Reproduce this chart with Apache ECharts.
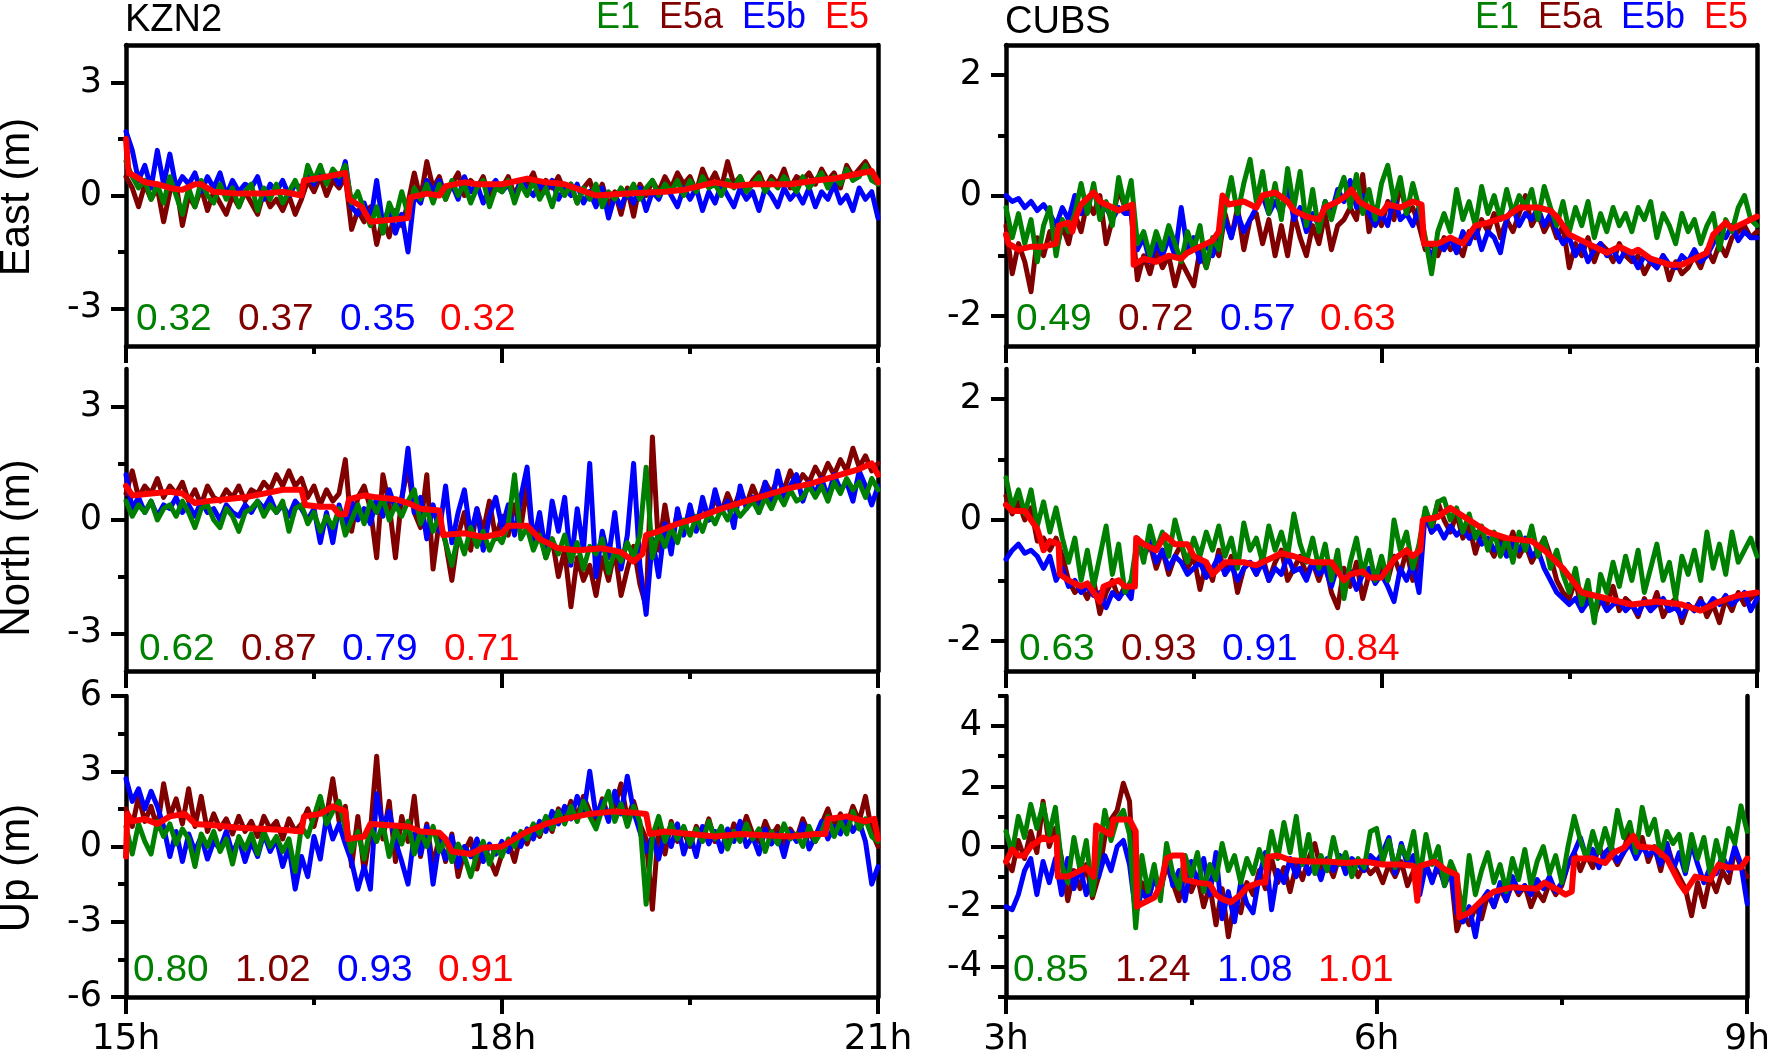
<!DOCTYPE html>
<html><head><meta charset="utf-8">
<script src="https://cdn.jsdelivr.net/npm/echarts@6/dist/echarts.min.js"></script>
<style>html,body{margin:0;padding:0;background:#fff}#c{width:1773px;height:1058px}</style>
</head><body><div id="c"></div>
<script>
// ---------------- DATA ----------------
const sampleStepH = 0.05;
const kzn2StartH = 15, cubsStartH = 3;
const kzn2HourTicks = [15, 18, 21];
const cubsHourTicks = [3, 6, 9];
const seriesNames = ['E1', 'E5a', 'E5b', 'E5'];
const stationNames = ['KZN2', 'CUBS'];
const componentNames = ['East (m)', 'North (m)', 'Up (m)'];
const yTicksEN_KZN2 = [-3, 0, 3], yMinorEN_KZN2 = [-1.5, 1.5];
const yTicksUp_KZN2 = [-6, -3, 0, 3, 6], yMinorUp_KZN2 = [-4.5, -1.5, 1.5, 4.5];
const yTicksEN_CUBS = [-2, 0, 2], yMinorEN_CUBS = [-1, 1];
const yTicksUp_CUBS = [-4, -2, 0, 2, 4], yMinorUp_CUBS = [-5, -3, -1, 1, 3, 5];
const rmsKzn2 = [['0.32','0.37','0.35','0.32'],['0.62','0.87','0.79','0.71'],['0.80','1.02','0.93','0.91']];
const rmsCubs = [['0.49','0.72','0.57','0.63'],['0.63','0.93','0.91','0.84'],['0.85','1.24','1.08','1.01']];

// KZN2 East
const kzn2EastE1 = [0.9,0.5,0.2,0.4,-0.1,0.3,-0.2,0.5,0.0,-0.5,
 0.2,-0.3,0.4,0.0,-0.2,0.3,-0.1,0.2,-0.3,0.1,
 0.3,-0.4,0.2,-0.1,0.3,-0.2,0.1,0.4,0.0,0.8,
 0.4,0.8,0.3,0.7,0.5,0.8,-0.2,0.1,-0.4,-0.8,
 -0.3,-1.0,-0.2,-0.6,0.1,-0.5,0.2,-0.1,0.3,-0.2,
 0.3,-0.1,0.4,0.0,0.3,-0.2,0.2,0.4,-0.3,0.2,
 0.1,0.4,-0.2,0.3,0.0,0.4,-0.1,0.2,-0.3,0.3,
 0.0,0.3,-0.2,0.2,-0.1,0.3,-0.3,0.1,-0.1,0.2,
 0.0,0.3,-0.1,0.2,0.4,0.0,0.3,0.1,0.4,0.0,
 0.4,0.1,0.5,0.2,0.3,0.0,0.4,0.2,0.5,0.1,
 0.3,0.5,0.1,0.4,0.2,0.5,0.3,0.1,0.5,0.2,
 0.4,0.6,0.2,0.5,0.3,0.7,0.4,0.5,0.8,0.4,
 0.3];
const kzn2EastE5a = [0.5,0.2,-0.3,0.3,-0.1,0.2,-0.7,0.1,0.3,-0.8,
 0.0,-0.3,0.2,-0.4,0.1,-0.2,-0.5,0.0,-0.3,0.1,
 -0.2,-0.5,0.1,-0.3,-0.1,-0.4,0.0,-0.5,-0.1,0.4,
 0.1,0.5,0.0,0.4,0.2,0.5,-0.9,-0.4,-0.7,-0.3,
 -1.3,-0.6,-1.1,-0.4,-0.8,-0.2,0.6,-0.1,0.9,0.2,
 0.5,-0.1,0.3,0.6,0.0,0.4,0.2,0.5,-0.1,0.3,
 0.2,0.5,0.0,0.4,0.3,0.6,0.1,0.4,0.2,0.5,
 0.1,0.3,-0.2,0.2,0.4,-0.1,0.3,-0.3,0.1,-0.5,
 0.2,-0.55,0.3,0.0,0.4,0.1,0.5,0.2,0.6,0.3,
 0.5,0.1,0.7,0.3,0.6,0.2,0.9,0.3,0.5,0.1,
 0.4,0.6,0.2,0.5,0.3,0.7,0.2,0.5,0.4,0.6,
 0.3,0.7,0.4,0.6,0.2,0.8,0.5,0.7,0.9,0.6,
 0.4];
const kzn2EastE5b = [1.7,1.2,0.4,0.8,0.2,1.2,0.3,1.1,0.2,0.5,
 0.3,0.6,0.1,0.5,0.2,0.6,0.0,0.4,0.1,0.3,
 0.2,0.5,-0.1,0.3,0.1,0.4,0.0,0.3,0.2,0.6,
 0.3,0.7,0.4,0.6,0.3,0.9,-0.3,-0.5,-0.2,-0.7,
 0.4,-0.8,-0.3,-1.0,-0.5,-1.5,0.0,-0.2,0.4,0.1,
 0.4,0.0,0.3,-0.1,0.5,0.1,0.3,-0.2,0.2,0.4,
 0.1,0.3,-0.1,0.4,0.2,0.0,0.3,0.1,0.4,-0.1,
 0.2,0.0,0.3,-0.2,0.1,-0.3,0.2,-0.6,0.0,-0.3,
 0.1,-0.2,0.2,-0.4,0.1,-0.1,0.3,0.0,-0.3,0.2,
 -0.1,0.2,-0.4,0.1,-0.2,0.3,0.0,-0.3,0.2,-0.1,
 0.1,-0.4,0.2,0.0,-0.3,0.2,-0.1,0.1,-0.2,0.2,
 -0.3,0.1,-0.1,0.3,-0.2,0.0,-0.4,0.2,-0.1,0.1,
 -0.6];
const kzn2EastE5 = [[15.0,1.5],[15.02,0.6],[15.08,0.5],[15.15,0.35],[15.25,0.3],[15.35,0.2],[15.45,0.15],[15.55,0.3],[15.6,0.3],[15.7,0.1],[15.9,0.05],[16.1,0.05],[16.25,0.1],[16.4,0.0],[16.42,0.4],[16.6,0.5],[16.75,0.6],[16.78,-0.1],[16.88,-0.3],[16.95,-0.7],[17.1,-0.65],[17.25,-0.6],[17.27,-0.05],[17.4,0.05],[17.5,0.0],[17.55,0.25],[17.7,0.35],[17.8,0.3],[18.0,0.3],[18.2,0.45],[18.35,0.35],[18.5,0.3],[18.75,0.0],[19.0,0.05],[19.3,0.1],[19.45,0.15],[19.7,0.35],[19.85,0.25],[20.0,0.3],[20.3,0.3],[20.5,0.4],[20.65,0.45],[20.8,0.55],[20.95,0.65],[21.0,0.35]];

// KZN2 North
const kzn2NorthE1 = [0.5,0.1,0.4,0.2,0.5,0.0,0.3,0.4,0.1,0.5,
 0.2,-0.2,0.3,0.4,0.0,-0.2,0.3,0.1,-0.3,0.2,
 0.3,0.5,0.1,0.4,0.2,0.5,-0.3,0.3,0.4,-0.1,
 0.2,-0.3,0.1,-0.2,0.3,-0.4,0.0,0.4,-0.1,0.5,
 0.2,0.6,0.0,0.4,0.1,0.5,0.8,-0.1,0.3,-0.3,
 0.1,-0.6,-1.2,-0.4,-0.9,-0.2,-0.7,-0.3,-0.8,-0.4,
 -0.6,-0.1,1.2,-0.5,-0.2,-0.8,-0.4,-1.0,-0.5,-0.9,
 -0.4,-1.1,-0.6,-1.3,-0.7,-0.9,-0.5,-1.4,-0.8,-1.1,
 -0.6,-1.0,-0.4,1.4,-1.0,-0.3,-0.7,-0.2,-0.6,0.0,
 -0.4,0.1,-0.3,0.2,-0.1,0.3,0.0,0.4,0.1,0.3,
 0.5,0.2,0.6,0.3,0.7,0.4,0.8,0.5,0.6,0.9,
 0.6,0.9,0.5,1.0,0.7,1.1,0.8,1.0,0.6,1.1,
 0.8];
const kzn2NorthE5a = [0.7,1.3,0.6,0.9,0.7,1.1,0.6,0.9,0.7,1.0,
 0.5,0.8,0.4,0.9,0.6,0.5,0.8,0.6,0.9,0.5,
 0.8,0.7,1.0,0.8,1.2,0.9,1.3,0.9,1.1,0.6,
 0.9,0.4,0.8,0.5,0.7,1.6,-0.3,0.6,0.9,0.3,
 -1.0,1.2,0.4,-1.0,0.6,1.4,0.2,-0.2,1.2,-1.3,
 0.0,-0.6,-1.6,-0.4,0.2,-0.8,0.3,-0.3,0.5,-0.5,
 0.1,-0.4,0.4,-0.2,0.9,-0.6,-0.2,-1.0,-0.5,-1.5,
 -0.8,-2.3,-1.0,-1.6,-1.2,-2.0,-1.0,-1.6,-0.8,-2.0,
 -1.3,-0.7,-1.7,-2.3,2.2,-0.8,0.4,-0.6,0.2,-0.3,
 0.3,-0.2,0.5,0.0,0.6,0.2,0.7,0.3,0.8,0.4,
 0.9,0.5,1.0,0.7,1.1,0.8,1.3,0.9,1.2,1.0,
 1.4,1.1,1.5,1.2,1.6,1.3,1.9,1.4,1.7,1.3,
 1.5];
const kzn2NorthE5b = [1.2,0.3,0.6,0.2,0.5,0.1,0.4,0.3,0.6,0.2,
 0.4,0.1,0.5,0.2,0.3,0.0,0.4,0.2,0.1,0.4,
 0.2,0.5,0.3,0.6,0.2,0.4,0.1,0.5,0.3,0.0,
 0.3,-0.6,0.2,-0.6,0.4,-0.2,0.5,0.0,0.3,-0.1,
 0.6,0.1,0.8,0.3,0.5,1.9,0.2,0.6,-0.5,0.4,
 -0.3,0.9,-0.6,0.2,0.8,-0.4,0.3,-0.8,0.1,0.6,
 -0.2,0.4,-0.4,0.6,1.4,-0.6,0.2,-0.9,0.5,-0.3,
 0.6,-1.2,0.3,-0.8,1.5,-1.5,-0.3,-1.0,0.2,-1.3,
 -0.4,1.5,-1.2,-2.5,-0.5,-1.5,-0.1,-0.9,0.3,-0.4,
 0.4,-0.3,0.6,0.0,0.8,0.2,0.5,-0.2,0.9,0.3,
 0.6,0.2,1.0,0.4,1.3,0.6,0.9,1.2,0.5,1.0,
 0.7,1.1,0.6,1.2,0.8,1.0,0.5,1.3,0.9,0.4,
 0.9];
const kzn2NorthE5 = [[15.0,0.9],[15.05,0.65],[15.2,0.7],[15.35,0.75],[15.45,0.7],[15.55,0.45],[15.65,0.5],[15.8,0.55],[15.95,0.6],[16.1,0.7],[16.25,0.8],[16.4,0.8],[16.43,0.4],[16.55,0.35],[16.65,0.35],[16.7,0.15],[16.75,0.15],[16.78,0.55],[16.9,0.65],[17.0,0.6],[17.15,0.55],[17.25,0.45],[17.35,0.3],[17.5,0.25],[17.53,-0.4],[17.7,-0.35],[17.85,-0.45],[18.0,-0.35],[18.05,-0.15],[18.2,-0.15],[18.3,-0.5],[18.45,-0.75],[18.6,-0.8],[18.8,-0.75],[18.95,-0.85],[19.05,-1.1],[19.12,-0.9],[19.15,-0.4],[19.25,-0.3],[19.4,-0.1],[19.55,0.05],[19.75,0.3],[20.0,0.55],[20.15,0.7],[20.3,0.85],[20.45,0.95],[20.6,1.1],[20.75,1.25],[20.85,1.35],[20.95,1.5],[21.0,1.2]];

// KZN2 Up
const kzn2UpE1 = [0.8,-0.3,0.9,0.2,-0.3,1.0,0.4,0.9,0.1,0.7,
 0.3,-0.8,0.5,0.0,0.6,-0.2,0.3,-0.7,0.4,-0.1,
 0.5,-0.3,0.6,0.0,0.4,-0.2,0.3,-1.0,0.8,0.4,
 1.2,2.0,0.9,1.4,1.8,0.7,-0.2,0.6,-0.5,0.8,
 0.2,0.9,-0.4,0.7,0.1,1.0,-0.3,0.6,0.0,0.8,
 -0.2,0.3,-0.6,0.1,-0.4,-1.2,-0.3,0.2,-0.7,0.0,
 -0.4,0.3,0.0,0.6,0.3,0.9,0.5,1.2,0.7,1.4,
 0.9,1.6,1.0,1.8,1.2,0.7,1.5,2.2,1.0,1.7,
 0.8,1.6,1.0,-2.3,0.4,1.2,0.2,0.9,0.3,0.8,
 0.1,0.7,0.2,1.0,0.3,0.8,-0.1,0.6,0.2,0.9,
 0.3,0.7,-0.2,0.6,0.1,0.9,0.3,0.5,0.0,0.8,
 0.2,0.6,1.2,0.4,1.0,0.5,1.4,0.7,1.1,0.4,
 0.2];
const kzn2UpE5a = [1.5,0.8,2.0,1.0,1.6,0.7,2.5,1.2,1.9,0.9,
 2.3,0.8,2.0,0.6,1.3,0.7,1.1,0.5,1.2,0.6,
 1.0,0.4,1.2,0.7,1.0,0.3,1.1,0.6,0.9,1.5,
 0.8,1.8,1.2,2.7,1.0,1.6,-0.8,1.2,-1.0,0.6,
 3.6,0.3,1.8,-0.6,1.2,0.2,2.0,-0.4,0.9,-0.8,
 0.4,-0.6,0.5,-1.2,-0.2,0.3,-0.9,0.1,-0.5,-1.1,
 -0.3,0.2,-0.6,0.5,0.1,0.8,0.4,1.1,0.6,1.5,
 1.0,1.8,1.2,2.0,1.4,1.0,1.9,1.2,1.6,2.5,
 1.1,1.8,0.9,0.3,-2.5,0.8,-0.3,1.0,0.2,0.6,
 0.0,0.8,0.3,1.1,0.2,0.7,0.0,0.9,0.4,1.2,
 0.5,0.2,1.0,0.4,0.8,0.1,0.7,0.3,1.1,0.5,
 0.2,0.9,1.5,0.7,1.3,0.8,1.6,1.0,2.0,0.6,
 0.0];
const kzn2UpE5b = [2.7,1.8,2.3,1.5,2.2,1.6,0.8,-0.4,0.6,-0.6,
 0.5,-0.2,0.4,-0.5,0.2,-0.1,0.6,-0.3,0.3,-0.6,
 0.2,-0.4,0.5,-0.2,0.3,-0.8,0.0,-1.7,-0.4,-1.2,
 0.4,-0.5,1.2,0.3,0.9,0.1,-0.6,-1.7,-0.8,-1.7,
 2.1,0.8,1.4,0.2,-0.6,-1.5,0.5,-0.3,0.8,-1.5,
 0.2,-0.5,0.4,-0.8,0.0,-0.4,0.3,-0.6,0.1,-0.3,
 0.2,-0.2,0.5,0.0,0.7,0.3,1.0,0.6,1.4,0.9,
 1.6,1.1,2.0,1.3,3.0,1.2,1.8,1.0,2.2,1.3,
 2.8,1.4,0.6,-0.2,0.4,-0.5,0.6,0.0,0.9,-0.3,
 0.5,-0.4,0.8,0.1,0.6,-0.2,0.7,0.2,1.0,0.0,
 0.4,-0.3,0.7,0.1,0.5,-0.4,0.6,0.2,0.9,-0.1,
 0.4,1.0,0.3,0.8,0.5,1.2,0.6,1.0,0.2,-1.5,
 -0.8];
const kzn2UpE5 = [[15.0,-0.4],[15.01,1.3],[15.05,1.0],[15.15,1.1],[15.25,0.9],[15.35,1.2],[15.47,1.3],[15.55,0.9],[15.7,0.85],[15.9,0.75],[16.1,0.7],[16.3,0.65],[16.4,0.6],[16.42,1.2],[16.55,1.3],[16.65,1.6],[16.75,1.4],[16.77,0.3],[16.9,0.4],[16.95,0.9],[17.1,0.85],[17.25,0.8],[17.35,0.6],[17.5,0.55],[17.55,0.3],[17.6,-0.2],[17.75,-0.3],[17.85,-0.05],[18.0,0.0],[18.1,0.3],[18.2,0.6],[18.35,0.9],[18.5,1.1],[18.7,1.3],[18.9,1.4],[19.05,1.35],[19.15,1.3],[19.18,0.5],[19.3,0.6],[19.5,0.5],[19.7,0.4],[19.9,0.5],[20.1,0.45],[20.3,0.4],[20.5,0.5],[20.58,0.5],[20.6,1.1],[20.75,1.2],[20.9,1.0],[20.97,1.1],[21.0,0.3]];

// CUBS East
const cubsEastE1 = [-0.2,-0.7,-0.3,-0.8,-0.4,-1.1,-0.5,-0.2,-1.0,-0.4,
 -0.6,-0.3,0.2,-0.3,0.2,-0.4,-0.1,-0.5,0.3,-0.2,
 0.25,-0.8,-0.6,-1.0,-0.6,-0.9,-0.5,-0.8,-1.1,-0.6,
 -0.9,-0.5,-1.2,-0.7,-0.9,-0.2,0.3,-0.3,0.2,0.6,
 -0.1,0.4,-0.3,0.2,-0.4,0.45,-0.2,0.4,-0.5,0.1,
 -0.6,-0.1,-0.4,0.0,0.3,-0.2,0.35,-0.3,0.1,-0.4,
 0.2,0.5,-0.1,0.3,-0.3,0.2,-0.2,-0.7,-1.3,-0.6,
 -0.3,-0.6,0.1,-0.4,-0.1,-0.5,0.15,-0.3,0.0,-0.4,
 0.1,-0.3,0.0,-0.2,0.1,-0.4,0.15,-0.2,-0.5,-0.1,
 -0.6,-0.2,-0.5,-0.1,-0.7,-0.3,-0.6,-0.2,-0.5,-0.3,
 -0.6,-0.2,-0.4,-0.1,-0.7,-0.3,-0.5,-0.8,-0.3,-0.6,
 -0.4,-0.8,-0.5,-0.3,-0.9,-0.4,-0.6,-0.2,0.0,-0.4,
 -0.5];
const cubsEastE5a = [-0.5,-1.3,-0.8,-1.1,-1.6,-0.7,-1.0,-0.6,-0.9,-0.5,
 -0.8,-0.3,-0.6,-0.1,-0.3,0.0,-0.8,-0.4,0.1,-0.2,
 -0.3,-1.4,-1.0,-1.3,-0.9,-1.2,-1.0,-1.5,-1.1,-1.3,
 -1.5,-0.9,-1.2,-0.8,-1.0,-0.3,-0.7,-0.2,-0.9,-0.4,
 -0.3,-0.8,-0.4,-1.0,-0.5,-1.0,-0.3,-0.7,-1.0,-0.5,
 -0.8,-0.3,-0.9,-0.5,-0.4,-0.2,-0.4,0.35,-0.6,-0.2,
 -0.5,-0.1,-0.4,0.2,-0.3,-0.2,-0.5,-0.9,-0.8,-1.0,
 -0.7,-0.9,-0.8,-1.0,-0.6,-0.7,-0.4,-0.6,-0.3,-0.7,
 -0.4,-0.6,-0.3,0.0,-0.5,-0.3,-0.6,-0.4,-0.7,-0.5,
 -1.2,-0.8,-1.0,-0.7,-1.1,-0.8,-0.9,-1.1,-0.8,-1.0,
 -1.1,-1.0,-1.3,-1.1,-1.2,-1.0,-1.4,-1.1,-1.3,-1.2,
 -1.0,-1.2,-0.9,-1.1,-0.8,-1.0,-0.7,-0.6,-0.5,-0.7,
 -0.6];
const cubsEastE5b = [0.0,-0.1,-0.05,-0.2,-0.1,-0.25,-0.15,-0.3,-0.5,-0.2,
 -0.4,0.0,-0.3,-0.1,0.1,-0.3,-0.2,-0.4,-0.2,-0.3,
 -0.3,-0.9,-0.7,-1.1,-0.8,-1.0,-0.7,-1.0,-0.2,-0.9,
 -0.7,-1.1,-0.8,-1.0,-0.7,-0.4,-0.7,-0.3,-0.6,-0.4,
 -0.2,0.0,-0.3,-0.1,-0.3,0.2,-0.4,-0.2,-0.6,-0.3,
 -0.5,-0.1,-0.3,0.1,-0.1,0.25,-0.2,0.0,-0.3,-0.5,
 -0.3,-0.5,0.0,-0.4,-0.3,-0.5,-0.2,-0.8,-1.0,-0.8,
 -0.9,-0.7,-0.95,-0.6,-0.8,-0.5,-0.9,-0.6,-0.7,-0.95,
 -0.4,-0.2,-0.5,-0.3,-0.4,-0.2,-0.5,-0.3,-0.6,-0.8,
 -0.7,-1.0,-0.8,-1.1,-0.9,-0.8,-1.0,-0.9,-1.1,-0.9,
 -1.0,-1.2,-1.0,-1.1,-1.2,-1.0,-1.15,-1.2,-1.0,-1.1,
 -0.9,-1.1,-1.0,-0.8,-0.6,-0.7,-0.5,-0.75,-0.6,-0.7,
 -0.7];
const cubsEastE5 = [[3.0,-0.65],[3.02,-0.8],[3.1,-0.9],[3.2,-0.85],[3.3,-0.85],[3.4,-0.8],[3.42,-0.5],[3.5,-0.45],[3.53,-0.6],[3.56,-0.35],[3.6,-0.15],[3.7,0.05],[3.75,-0.1],[3.85,-0.2],[3.9,-0.25],[3.95,-0.2],[4.01,-0.15],[4.02,-1.15],[4.1,-1.05],[4.2,-1.1],[4.3,-1.0],[4.4,-1.05],[4.45,-0.95],[4.55,-0.85],[4.65,-0.75],[4.7,-0.6],[4.73,0.0],[4.78,-0.15],[4.9,-0.1],[5.0,-0.2],[5.05,0.0],[5.15,0.05],[5.25,-0.1],[5.3,-0.25],[5.4,-0.35],[5.5,-0.4],[5.55,-0.2],[5.65,-0.1],[5.72,0.0],[5.76,0.1],[5.82,-0.1],[5.9,-0.2],[6.0,-0.3],[6.05,-0.15],[6.15,-0.2],[6.25,-0.1],[6.32,-0.15],[6.34,-0.8],[6.45,-0.8],[6.55,-0.7],[6.65,-0.8],[6.75,-0.5],[6.85,-0.45],[7.0,-0.35],[7.1,-0.2],[7.25,-0.2],[7.35,-0.25],[7.4,-0.35],[7.5,-0.65],[7.65,-0.8],[7.8,-0.95],[7.9,-0.85],[8.0,-0.95],[8.05,-0.9],[8.15,-1.05],[8.3,-1.15],[8.4,-1.15],[8.5,-1.05],[8.6,-0.95],[8.65,-0.65],[8.7,-0.55],[8.75,-0.45],[8.8,-0.55],[8.9,-0.45],[9.0,-0.35]];

// CUBS North
const cubsNorthE1 = [0.7,0.2,0.5,0.1,0.5,-0.1,0.3,-0.2,0.2,-0.3,
 -0.7,-0.3,-1.0,-0.5,-1.1,-0.6,-0.1,-0.9,-0.4,-1.2,
 -1.0,-0.3,-0.7,-0.1,-0.5,-0.2,-0.6,0.0,-0.4,-0.7,
 -0.3,-0.6,-0.2,-0.5,-0.1,-0.6,-0.3,-0.8,-0.05,-0.5,
 -0.3,-0.7,-0.1,-0.5,-0.2,-0.6,0.1,-0.4,-0.7,-0.3,
 -0.8,-0.4,-1.0,-0.5,-1.3,-0.7,-0.3,-0.9,-0.5,-1.0,
 -0.6,-1.0,0.0,-0.5,-0.2,-0.8,-0.4,0.2,-0.1,0.3,
 0.35,0.0,0.2,-0.2,0.1,-0.3,-0.1,-0.5,-0.2,-0.6,
 -0.3,-0.7,-0.2,-0.5,-0.1,-0.6,-0.3,-0.8,-0.5,-0.9,
 -1.2,-0.8,-1.4,-1.0,-1.7,-0.9,-1.2,-0.7,-1.1,-0.6,
 -1.0,-0.5,-1.2,-0.8,-0.4,-1.0,-0.7,-1.3,-0.6,-0.9,
 -0.5,-1.0,-0.2,-0.8,-0.4,-0.9,-0.2,-0.7,-0.5,-0.3,
 -0.6];
const cubsNorthE5a = [0.4,0.1,0.3,0.0,0.2,-0.35,-0.3,-0.5,-0.3,-0.6,
 -1.0,-1.2,-1.1,-1.3,-1.0,-1.55,-1.2,-1.0,-1.3,-1.1,
 -1.2,-0.3,-0.6,-0.4,-0.8,-0.5,-0.9,-0.6,-0.4,-0.8,
 -0.6,-1.15,-0.7,-1.0,-0.5,-0.9,-0.6,-1.2,-0.8,-0.7,
 -0.9,-0.6,-1.0,-0.7,-0.5,-1.0,-0.8,-0.6,-0.9,-0.7,
 -1.0,-0.7,-1.2,-1.45,-0.8,-1.1,-0.7,-1.3,-0.9,-1.0,
 -0.8,-1.0,-0.6,-0.9,-0.5,-1.0,-0.7,0.1,-0.2,0.3,
 0.0,-0.2,0.1,-0.3,-0.1,-0.55,-0.2,-0.4,-0.6,-0.3,
 -0.5,-0.2,-0.6,-0.4,-0.7,-0.5,-0.3,-0.6,-1.0,-1.2,
 -1.3,-1.0,-1.5,-1.2,-1.6,-1.3,-1.4,-1.1,-1.5,-1.3,
 -1.4,-1.6,-1.3,-1.5,-1.2,-1.6,-1.4,-1.3,-1.7,-1.4,
 -1.5,-1.3,-1.6,-1.4,-1.7,-1.3,-1.5,-1.2,-1.4,-1.3,
 -1.2];
const cubsNorthE5b = [-0.65,-0.5,-0.4,-0.55,-0.5,-0.6,-0.8,-0.6,-1.0,-0.8,
 -1.1,-1.0,-1.2,-1.1,-1.25,-1.2,-1.45,-1.2,-1.3,-1.15,
 -1.3,-0.4,-0.6,-0.35,-0.7,-0.5,-0.8,-0.6,-0.7,-0.9,
 -0.8,-0.7,-0.95,-0.8,-0.6,-0.9,-0.75,-1.0,-0.8,-0.7,
 -0.9,-0.7,-1.0,-0.8,-0.9,-0.6,-0.85,-0.8,-1.0,-0.7,
 -0.9,-0.8,-1.1,-0.75,-1.0,-0.85,-1.15,-0.9,-0.8,-1.05,
 -0.9,-1.1,-1.35,-0.8,-1.0,-0.7,-1.2,0.15,-0.2,-0.1,
 -0.3,-0.1,-0.25,-0.15,-0.3,-0.2,-0.4,-0.3,-0.5,-0.4,
 -0.6,-0.4,-0.5,-0.3,-0.6,-0.5,-0.8,-1.0,-1.2,-1.3,
 -1.4,-1.3,-1.5,-1.35,-1.45,-1.3,-1.5,-1.4,-1.35,-1.5,
 -1.4,-1.55,-1.35,-1.5,-1.4,-1.3,-1.5,-1.45,-1.6,-1.4,
 -1.5,-1.35,-1.45,-1.3,-1.4,-1.25,-1.4,-1.3,-1.2,-1.5,
 -1.3];
const cubsNorthE5 = [[3.0,0.25],[3.05,0.15],[3.15,0.15],[3.2,0.0],[3.25,-0.15],[3.28,-0.35],[3.3,-0.5],[3.35,-0.35],[3.42,-0.4],[3.43,-0.9],[3.5,-1.0],[3.6,-1.1],[3.65,-1.05],[3.7,-1.2],[3.75,-1.35],[3.78,-1.1],[3.9,-1.0],[3.95,-1.1],[4.03,-1.1],[4.04,-0.3],[4.1,-0.4],[4.2,-0.5],[4.27,-0.25],[4.35,-0.4],[4.45,-0.4],[4.5,-0.6],[4.6,-0.7],[4.65,-0.9],[4.75,-0.7],[4.9,-0.7],[5.0,-0.75],[5.1,-0.65],[5.2,-0.55],[5.3,-0.6],[5.45,-0.7],[5.6,-0.7],[5.7,-1.0],[5.75,-0.9],[5.85,-0.85],[5.9,-0.95],[6.0,-0.95],[6.1,-0.65],[6.2,-0.5],[6.25,-0.6],[6.31,-0.5],[6.33,0.0],[6.45,0.05],[6.55,0.2],[6.7,0.0],[6.85,-0.2],[7.0,-0.3],[7.2,-0.35],[7.3,-0.5],[7.45,-0.8],[7.6,-1.2],[7.8,-1.3],[8.0,-1.4],[8.2,-1.35],[8.4,-1.4],[8.55,-1.5],[8.7,-1.35],[8.85,-1.25],[9.0,-1.2]];

// CUBS Up
const cubsUpE1 = [0.5,-0.2,1.0,0.3,1.4,0.6,1.4,0.4,1.3,-0.6,
 -1.2,0.3,-0.8,0.2,-1.6,-0.3,1.2,0.2,0.9,1.2,
 0.4,-2.7,-0.3,-1.5,-0.6,-1.8,0.1,-0.9,-1.4,-0.3,
 -1.0,-0.2,-1.5,-0.6,-1.1,0.1,-0.8,-0.3,-1.2,-0.4,
 -0.9,-0.1,-0.7,0.5,-0.4,0.8,-0.2,1.0,-0.6,0.4,
 -0.9,-0.3,-0.8,0.3,-0.6,-0.2,-1.0,-0.4,-0.7,0.5,
 0.6,-0.5,0.2,-0.7,0.0,-0.4,0.5,-1.0,0.4,-0.6,
 0.0,-1.3,-0.5,-1.0,-2.3,-0.3,-1.6,-0.8,-0.2,-1.2,
 -0.6,-1.5,-0.4,-1.1,-0.1,-1.3,-0.5,0.0,-0.9,-0.3,
 -1.2,0.0,1.0,0.2,-0.4,0.5,-0.2,0.6,-0.1,1.2,
 0.3,0.8,-0.2,1.3,0.4,0.9,-0.3,0.5,0.1,0.4,
 -0.8,0.4,-0.4,0.3,-0.9,0.2,-0.6,0.6,0.1,1.35,
 0.5];
const cubsUpE5a = [-0.5,-0.8,0.2,-0.4,0.5,-0.2,1.5,0.0,0.6,-0.4,
 -1.8,-0.8,-1.4,-0.6,-1.7,-1.0,0.3,0.9,1.2,2.1,
 1.5,-2.3,-1.2,-1.8,-1.0,-1.5,-0.6,-1.2,-1.8,-0.8,
 -1.5,-1.0,-2.0,-1.3,-2.6,-1.4,-3.0,-1.8,-2.2,-1.2,
 -1.6,-0.8,-1.4,-0.4,-1.2,-0.7,-1.5,-0.6,-1.1,-0.4,
 0.1,-0.8,-0.5,-1.0,-0.3,-0.8,-0.5,-1.0,-0.6,-0.9,
 -0.7,-1.2,-0.6,-1.0,-0.5,-1.3,-0.8,-1.0,-0.6,-1.1,
 -0.7,-1.2,-0.8,-2.8,-2.2,-2.6,-2.0,-2.4,-1.6,-2.0,
 -1.4,-1.8,-1.2,-1.6,-1.3,-2.0,-1.5,-1.8,-1.2,-1.6,
 -1.3,-0.6,-0.2,-0.8,-0.3,-0.7,0.0,-0.5,-0.2,-0.6,
 -0.2,0.7,-0.3,0.3,-0.5,0.0,-0.8,0.1,-0.6,-1.0,
 -1.4,-2.3,-1.2,-2.0,-1.0,-1.5,-0.8,-1.2,-0.1,-0.7,
 -1.0];
const cubsUpE5b = [-2.0,-2.1,-1.6,-0.8,-0.4,-1.6,-0.5,-1.2,-0.4,-1.6,
 -0.4,-1.4,-0.7,-1.6,-0.9,-1.0,-0.3,-0.8,0.0,0.2,
 -0.6,-2.2,-1.5,-1.8,-1.0,-1.6,-0.2,-1.3,-0.8,-1.8,
 -0.5,-1.2,-0.4,-1.6,-0.2,-2.4,-1.5,-2.5,-1.2,-1.9,
 -2.2,-1.0,-0.2,-2.1,-0.8,-1.2,-0.4,-1.0,-0.3,-0.9,
 -0.5,-1.1,-0.4,-0.8,-0.3,-0.9,-0.4,-0.6,-0.8,-0.3,
 -0.5,-0.2,0.3,-0.9,0.1,-0.6,-0.3,-1.6,-0.6,-1.2,
 -0.5,-1.3,-0.8,-2.2,-2.5,-2.0,-3.0,-1.8,-1.5,-2.0,
 -1.2,-1.8,-1.0,-1.5,-1.3,-1.6,-1.1,-1.4,-1.0,-1.5,
 -1.2,-0.6,-0.2,0.3,-0.4,-0.1,-0.7,-0.2,0.0,-0.5,
 -0.2,0.1,-0.4,0.0,-0.3,-0.1,-0.6,0.1,-0.8,-0.2,
 -0.9,0.1,-0.6,-1.2,-0.7,-0.9,-0.3,-0.8,0.0,-0.6,
 -1.9];
const cubsUpE5 = [[3.0,-0.5],[3.05,-0.1],[3.1,-0.3],[3.15,-0.3],[3.2,0.0],[3.3,0.3],[3.35,0.2],[3.41,0.3],[3.42,-1.0],[3.5,-1.0],[3.55,-0.9],[3.65,-0.7],[3.71,-1.0],[3.73,0.7],[3.8,0.5],[3.85,0.4],[3.87,0.9],[4.0,0.9],[4.05,0.5],[4.06,-2.0],[4.1,-1.9],[4.2,-1.7],[4.25,-1.3],[4.3,-0.4],[4.35,-0.3],[4.43,-0.3],[4.45,-1.1],[4.55,-1.2],[4.65,-1.25],[4.7,-1.6],[4.75,-1.75],[4.82,-1.85],[4.9,-1.6],[4.95,-1.35],[5.05,-1.2],[5.1,-1.2],[5.12,-0.35],[5.2,-0.3],[5.3,-0.45],[5.45,-0.5],[5.6,-0.5],[5.75,-0.55],[5.9,-0.5],[6.05,-0.6],[6.2,-0.6],[6.3,-0.65],[6.33,-1.8],[6.35,-0.65],[6.47,-0.5],[6.55,-0.75],[6.65,-0.95],[6.67,-2.35],[6.75,-2.2],[6.85,-1.8],[6.95,-1.5],[7.1,-1.35],[7.3,-1.4],[7.36,-1.2],[7.45,-1.4],[7.53,-1.6],[7.58,-1.5],[7.6,-0.4],[7.75,-0.4],[7.85,-0.55],[7.92,-0.2],[8.0,-0.05],[8.08,0.35],[8.12,0.0],[8.25,-0.05],[8.35,-0.4],[8.45,-1.2],[8.5,-1.5],[8.58,-1.0],[8.7,-1.1],[8.77,-0.6],[8.85,-0.7],[8.95,-0.7],[9.0,-0.4]];

// ---------------- LAYOUT / STYLE ----------------
const FONT = '"Liberation Sans", Arial, Helvetica, sans-serif';
const TICKFONT = '"DejaVu Sans", "Liberation Sans", sans-serif';
const colors = ['#008000', '#800000', '#0000ff', '#ff0000'];
const colLeft = [126, 1006], colWidth = [752, 751];
const rowTop = [45, 369, 696], rowHeight = [301, 302, 303];

const panels = [
  {c:0,r:0,xMin:15,xMax:21,yMin:-4,yMax:4,yT:yTicksEN_KZN2,yM:yMinorEN_KZN2,start:kzn2StartH,d:[kzn2EastE1,kzn2EastE5a,kzn2EastE5b,kzn2EastE5],rms:rmsKzn2[0]},
  {c:0,r:1,xMin:15,xMax:21,yMin:-4,yMax:4,yT:yTicksEN_KZN2,yM:yMinorEN_KZN2,start:kzn2StartH,d:[kzn2NorthE1,kzn2NorthE5a,kzn2NorthE5b,kzn2NorthE5],rms:rmsKzn2[1]},
  {c:0,r:2,xMin:15,xMax:21,yMin:-6,yMax:6,yT:yTicksUp_KZN2,yM:yMinorUp_KZN2,start:kzn2StartH,d:[kzn2UpE1,kzn2UpE5a,kzn2UpE5b,kzn2UpE5],rms:rmsKzn2[2]},
  {c:1,r:0,xMin:3,xMax:9,yMin:-2.5,yMax:2.5,yT:yTicksEN_CUBS,yM:yMinorEN_CUBS,start:cubsStartH,d:[cubsEastE1,cubsEastE5a,cubsEastE5b,cubsEastE5],rms:rmsCubs[0]},
  {c:1,r:1,xMin:3,xMax:9,yMin:-2.5,yMax:2.5,yT:yTicksEN_CUBS,yM:yMinorEN_CUBS,start:cubsStartH,d:[cubsNorthE1,cubsNorthE5a,cubsNorthE5b,cubsNorthE5],rms:rmsCubs[1]},
  {c:1,r:2,xMin:3,xMax:9,yMin:-5,yMax:5,yT:yTicksUp_CUBS,yM:yMinorUp_CUBS,start:cubsStartH,d:[cubsUpE1,cubsUpE5a,cubsUpE5b,cubsUpE5],rms:rmsCubs[2]}
];

const grid = [], xAxis = [], yAxis = [], series = [], graphic = [];
const blackLine = {color:'#000', width:4.5};

function regular(start, vals) { return vals.map((v, i) => [start + i * sampleStepH, v]); }

panels.forEach((p, k) => {
  grid.push({left: colLeft[p.c], top: rowTop[p.r], width: colWidth[p.c], height: rowHeight[p.r]});
  const xi = xAxis.length;
  xAxis.push({type:'value', gridIndex:k, min:p.xMin, max:p.xMax, interval:3, position:'bottom',
    axisLine:{show:true, onZero:false, lineStyle:blackLine},
    axisTick:{show:true, length:17, lineStyle:{color:'#000', width:4}},
    axisLabel:{show:p.r === 2, margin:25, fontSize:36, color:'#000', fontFamily:TICKFONT, formatter:v => v + 'h'},
    splitLine:{show:false}});
  xAxis.push({type:'value', gridIndex:k, min:p.xMin, max:p.xMax, interval:1.5, position:'bottom',
    axisLine:{show:false, onZero:false}, axisTick:{show:true, length:8, lineStyle:{color:'#000', width:4}},
    axisLabel:{show:false}, splitLine:{show:false}});
  if (p.r === 0) {
    xAxis.push({type:'value', gridIndex:k, min:p.xMin, max:p.xMax, position:'top',
      axisLine:{show:true, onZero:false, lineStyle:blackLine}, axisTick:{show:false}, axisLabel:{show:false}, splitLine:{show:false}});
  }
  const yi = yAxis.length;
  yAxis.push({type:'value', gridIndex:k, min:p.yMin, max:p.yMax, position:'left',
    axisLine:{show:true, onZero:false, lineStyle:blackLine},
    axisTick:{show:true, length:15, customValues:p.yT, lineStyle:{color:'#000', width:4}},
    axisLabel:{show:true, customValues:p.yT, margin:24, fontSize:35, color:'#000', fontFamily:TICKFONT},
    splitLine:{show:false}});
  yAxis.push({type:'value', gridIndex:k, min:p.yMin, max:p.yMax, position:'left',
    axisLine:{show:false, onZero:false},
    axisTick:{show:true, length:8, customValues:p.yM, lineStyle:{color:'#000', width:4}},
    axisLabel:{show:false}, splitLine:{show:false}});
  yAxis.push({type:'value', gridIndex:k, min:p.yMin, max:p.yMax, position:'right',
    axisLine:{show:true, onZero:false, lineStyle:blackLine}, axisTick:{show:false}, axisLabel:{show:false}, splitLine:{show:false}});

  // draw order: E5a, E5b, E1, E5
  [1, 2, 0, 3].forEach(s => {
    const data = s === 3 ? p.d[3] : regular(p.start, p.d[s]);
    series.push({type:'line', name:seriesNames[s], xAxisIndex:xi, yAxisIndex:yi, data:data,
      showSymbol:false, symbol:'none', silent:true, clip:true, animation:false,
      lineStyle:{color:colors[s], width: s === 3 ? 6 : 5, join:'round', cap:'round'}, z: 2 + (s === 3 ? 2 : (s === 0 ? 1 : 0))});
  });

  // RMS texts
  const rmsOff = [[10,112,214,314],[13,115,216,318],[7,109,211,312]][p.r];
  const rmsY = [320.5, 650, 971.5][p.r];
  p.rms.forEach((t, j) => {
    graphic.push({type:'text', x: colLeft[p.c] + rmsOff[j], y: rmsY, scaleX:1.08, silent:true, z:10,
      style:{text:t, fill:colors[j], font:'36px ' + FONT, align:'left', verticalAlign:'middle'}});
  });
});

// station titles & legends
[0, 1].forEach(c => {
  graphic.push({type:'text', x: colLeft[c] - 1, y: c === 0 ? 21 : 23, silent:true,
    style:{text:stationNames[c], fill:'#000', font:'38px ' + FONT, align:'left', verticalAlign:'middle'}});
  const right = colLeft[c] + colWidth[c];
  const offs = [-282, -219, -136, -53];
  seriesNames.forEach((n, j) => {
    graphic.push({type:'text', x: right + offs[j], y: 18, silent:true,
      style:{text:n, fill:colors[j], font:'36px ' + FONT, align:'left', verticalAlign:'middle'}});
  });
});
// y axis names
[197, 548, 868].forEach((yc, r) => {
  graphic.push({type:'text', x:17, y:yc, rotation:Math.PI / 2, silent:true,
    style:{text:componentNames[r], fill:'#000', font:'42px ' + FONT, align:'center', verticalAlign:'middle'}});
});

const chart = echarts.init(document.getElementById('c'), null, {renderer:'canvas', width:1773, height:1058});
chart.setOption({backgroundColor:'#fff', animation:false, grid, xAxis, yAxis, series, graphic});
</script>
</body></html>
